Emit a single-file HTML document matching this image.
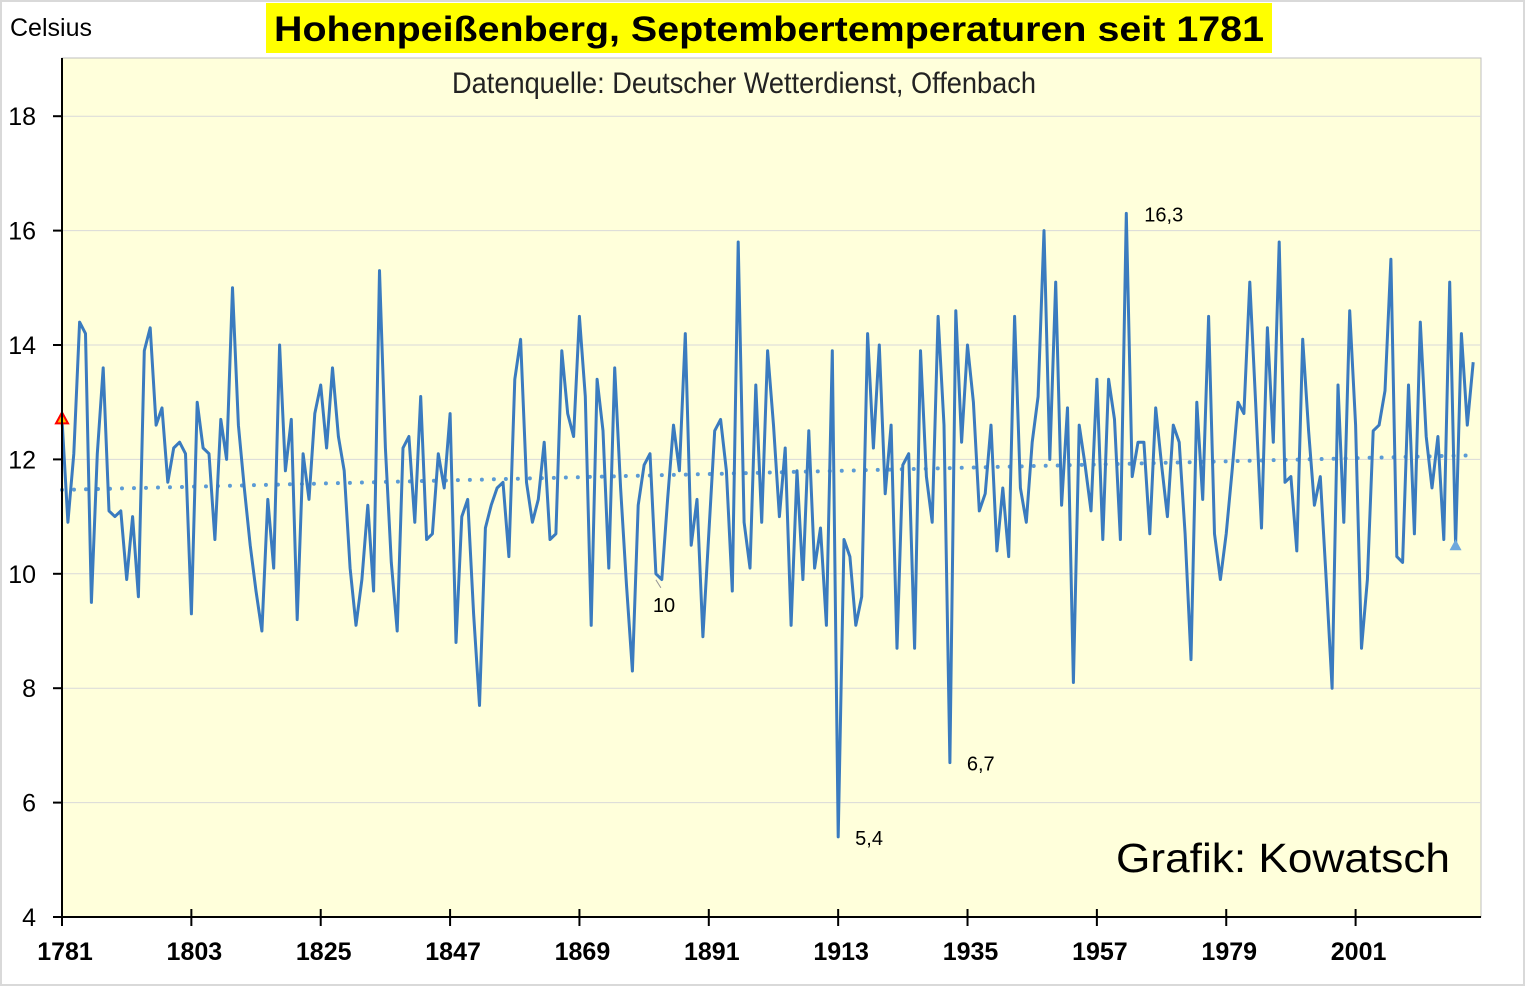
<!DOCTYPE html>
<html><head><meta charset="utf-8"><style>
html,body{margin:0;padding:0;background:#fff;}
svg{display:block;}
text{font-family:"Liberation Sans",Arial,sans-serif;}
</style></head><body>
<svg id="chart" width="1525" height="986" viewBox="0 0 1525 986" xmlns="http://www.w3.org/2000/svg">
<rect x="1" y="1" width="1523" height="984" fill="#fff" stroke="#d9d9d9" stroke-width="2"/>
<rect x="62" y="58" width="1419" height="859" fill="#ffffdb" stroke="#bfbfbf" stroke-width="1"/>
<g id="grid"></g>
<g id="trend"></g>
<g id="series"></g>
<g id="axes"></g>
<text x="10" y="36" font-size="25" fill="#000">Celsius</text>
<rect x="266" y="3" width="1006" height="50" fill="#ffff00"/>
<text x="769" y="41" font-size="35" font-weight="bold" text-anchor="middle" textLength="990" lengthAdjust="spacingAndGlyphs">Hohenpeißenberg, Septembertemperaturen seit 1781</text>
<text x="744" y="93" font-size="30" text-anchor="middle" textLength="584" lengthAdjust="spacingAndGlyphs" fill="#222">Datenquelle: Deutscher Wetterdienst, Offenbach</text>
<text x="1116" y="872" font-size="41" textLength="334" lengthAdjust="spacingAndGlyphs">Grafik: Kowatsch</text>
</svg>
<script>
const startYear = 1781;
const temps = [12.7,10.9,12.1,14.4,14.2,9.5,12.1,13.6,11.1,11.0,
11.1,9.9,11.0,9.6,13.9,14.3,12.6,12.9,11.6,12.2,
12.3,12.1,9.3,13.0,12.2,12.1,10.6,12.7,12.0,15.0,
12.6,11.5,10.5,9.7,9.0,11.3,10.1,14.0,11.8,12.7,
9.2,12.1,11.3,12.8,13.3,12.2,13.6,12.4,11.8,10.1,
9.1,9.9,11.2,9.7,15.3,12.2,10.2,9.0,12.2,12.4,
10.9,13.1,10.6,10.7,12.1,11.5,12.8,8.8,11.0,11.3,
9.3,7.7,10.8,11.2,11.5,11.6,10.3,13.4,14.1,11.6,
10.9,11.3,12.3,10.6,10.7,13.9,12.8,12.4,14.5,13.1,
9.1,13.4,12.5,10.1,13.6,11.5,9.8,8.3,11.2,11.9,
12.1,10.0,9.9,11.3,12.6,11.8,14.2,10.5,11.3,8.9,
10.7,12.5,12.7,11.8,9.7,15.8,10.9,10.1,13.3,10.9,
13.9,12.6,11.0,12.2,9.1,11.8,9.9,12.5,10.1,10.8,
9.1,13.9,5.4,10.6,10.3,9.1,9.6,14.2,12.2,14.0,
11.4,12.6,8.7,11.9,12.1,8.7,13.9,11.7,10.9,14.5,
12.6,6.7,14.6,12.3,14.0,13.0,11.1,11.4,12.6,10.4,
11.5,10.3,14.5,11.5,10.9,12.3,13.1,16.0,12.0,15.1,
11.2,12.9,8.1,12.6,11.9,11.1,13.4,10.6,13.4,12.7,
10.6,16.3,11.7,12.3,12.3,10.7,12.9,11.9,11.0,12.6,
12.3,10.7,8.5,13.0,11.3,14.5,10.7,9.9,10.7,11.8,
13.0,12.8,15.1,13.0,10.8,14.3,12.3,15.8,11.6,11.7,
10.4,14.1,12.5,11.2,11.7,9.9,8.0,13.3,10.9,14.6,
12.6,8.7,9.9,12.5,12.6,13.2,15.5,10.3,10.2,13.3,
10.7,14.4,12.4,11.5,12.4,10.6,15.1,10.5,14.2,12.6,13.7];
const xTickYears = [1781,1803,1825,1847,1869,1891,1913,1935,1957,1979,2001];
const yTicks = [4,6,8,10,12,14,16,18];
const labeledYears = [1962,1882,1913,1932];
const labelTexts = ["16,3","10","5,4","6,7"];

const NS="http://www.w3.org/2000/svg";
const X0=62, STEP=5.88, Y4=917, PXU=57.2;
function xs(i){return X0+i*STEP;}
function ys(v){return Y4-(v-4)*PXU;}
function mk(tag,attrs,parent){const e=document.createElementNS(NS,tag);for(const k in attrs)e.setAttribute(k,attrs[k]);parent.appendChild(e);return e;}
const grid=document.getElementById('grid'), axes=document.getElementById('axes'), series=document.getElementById('series'), trend=document.getElementById('trend'), svg=document.getElementById('chart');

yTicks.forEach(v=>{
  if(v>4){const g=mk('line',{x1:X0,x2:1481,y1:ys(v),y2:ys(v),stroke:'#d9d9d9','stroke-width':1},grid);
  
  }
  const t=mk('line',{x1:53,x2:62,y1:ys(v),y2:ys(v),stroke:'#000','stroke-width':2},axes);
  
  
  const l=mk('text',{x:36,y:ys(v)+9,'font-size':25,'text-anchor':'end'},axes);
  l.textContent=v;
  
  
});
mk('line',{x1:X0,x2:X0,y1:58,y2:918,stroke:'#000','stroke-width':2},axes);
mk('line',{x1:53,x2:1481,y1:Y4,y2:Y4,stroke:'#000','stroke-width':2},axes);
xTickYears.forEach(yr=>{
  const x=xs(yr-startYear);
  const t=mk('line',{x1:x,x2:x,y1:909,y2:926,stroke:'#000','stroke-width':2},axes);
  
  
  const l=mk('text',{x:x+3,y:960,'font-size':25,'font-weight':'bold','text-anchor':'middle'},axes);
  l.textContent=yr;
  
  
});

// linear trend
const n=temps.length;let sx=0,sy=0,sxy=0,sxx=0;
temps.forEach((v,i)=>{sx+=i;sy+=v;sxy+=i*v;sxx+=i*i;});
const b=(n*sxy-sx*sy)/(n*sxx-sx*sx), a=(sy-b*sx)/n;
const tl=mk('line',{x1:xs(0),y1:ys(a),x2:xs(n-1),y2:ys(a+b*(n-1)),stroke:'#5b9bd5','stroke-width':4,'stroke-linecap':'round','stroke-dasharray':'0 12'},trend);



const pts=temps.map((v,i)=>xs(i).toFixed(1)+','+ys(v).toFixed(1)).join(' ');
const pl=mk('polyline',{points:pts,fill:'none',stroke:'#3a7bbf','stroke-width':3,'stroke-linejoin':'round'},series);



// markers
const fx=xs(0), fy=ys(temps[0]);
const m1=mk('polygon',{points:`${fx},${fy-7} ${fx-6},${fy+4} ${fx+6},${fy+4}`,fill:'#ffc000',stroke:'#ff0000','stroke-width':2},series);


const mi=237, mx=xs(mi), my=ys(temps[mi]);
const m2=mk('polygon',{points:`${mx},${my-6} ${mx-6},${my+5} ${mx+6},${my+5}`,fill:'#6fa8dc'},series);



// data labels
const offs=[[18,8],[-3,38],[17,8],[17,8]];
labeledYears.forEach((yr,k)=>{
  const i=yr-startYear, x=xs(i), y=ys(temps[i]);
  if(k===1){mk('line',{x1:x,y1:y+6,x2:x+5,y2:y+14,stroke:'#999','stroke-width':1},svg);}
  const t=mk('text',{x:x+offs[k][0],y:y+offs[k][1],'font-size':20},svg);
  t.textContent=labelTexts[k];
  
  
});
</script>
</body></html>
